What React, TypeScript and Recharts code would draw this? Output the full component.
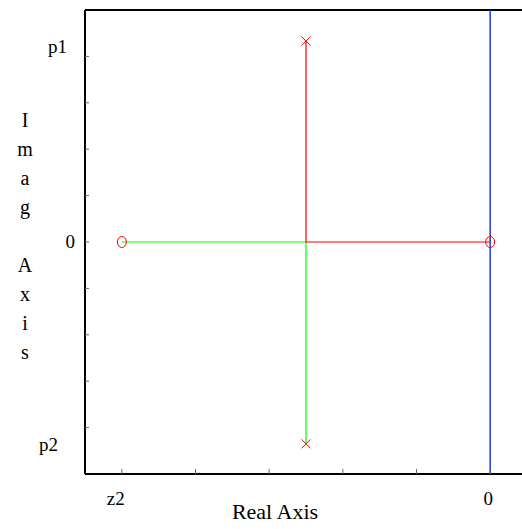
import React from 'react';
import { ComposedChart, Scatter, XAxis, YAxis } from 'recharts';

// ============================================
// Root locus plot (two poles, two zeros)
// ============================================

const realTicks = [-5, -4, -3, -2, -1, 0];
const realTickLabels = ['z2', '', '', '', '', '0'];

const imagTicks = [-4, -3, -2, -1, 0, 1, 2, 3, 4];
const imagLabelValues = [4.2, 0, -4.37];
const imagLabels = ['p1', '0', 'p2'];

const poles = [
  { x: -2.5, y: 4.33 },
  { x: -2.5, y: -4.35 },
];
const zeros = [
  { x: -5, y: 0 },
  { x: 0, y: 0 },
];

// branch from p1 to z1 (origin), branch from p2 to z2
const redBranch = [
  { x: -2.5, y: 4.33 },
  { x: -2.5, y: 0 },
  { x: 0, y: 0 },
];
const greenBranch = [
  { x: -2.5, y: -4.35 },
  { x: -2.5, y: 0 },
  { x: -5, y: 0 },
];
const imagAxisLine = [
  { x: 0, y: 5 },
  { x: 0, y: -5 },
];

const yLabelLetters = ['I', 'm', 'a', 'g', '', 'A', 'x', 'i', 's'];

const FONT = '"Liberation Serif", "Times New Roman", serif';
const TICK_GRAY = '#666';

function BottomTick(props: any) {
  const { x, y, payload, index } = props;
  const label = realTickLabels[realTicks.indexOf(payload.value)] ?? '';
  return (
    <g>
      <line x1={x} y1={y} x2={x} y2={y - 5} stroke={TICK_GRAY} strokeWidth={1} />
      {label && (
        <text x={x - (index === 0 ? 6 : 2)} y={y + 31} textAnchor="middle" fontFamily={FONT} fontSize={19} fill="#000">
          {label}
        </text>
      )}
    </g>
  );
}

function TopTick(props: any) {
  const { x, y } = props;
  return <line x1={x} y1={y} x2={x} y2={y + 5} stroke={TICK_GRAY} strokeWidth={1} />;
}

function LeftTick(props: any) {
  const { x, y, payload } = props;
  const v = payload.value;
  const labelIdx = imagLabelValues.indexOf(v);
  if (labelIdx >= 0) {
    const name = imagLabels[labelIdx];
    const endX = name === 'p1' ? x - 18 : name === 'p2' ? x - 27 : x - 10;
    return (
      <g>
        {v === 0 && <line x1={x} y1={y} x2={x + 4} y2={y} stroke={TICK_GRAY} strokeWidth={1} />}
        <text x={endX} y={y + 6} textAnchor="end" fontFamily={FONT} fontSize={19} fill="#000">
          {name}
        </text>
      </g>
    );
  }
  return <line x1={x} y1={y} x2={x + 4} y2={y} stroke={TICK_GRAY} strokeWidth={1} />;
}

function YAxisTitle() {
  return (
    <g>
      {yLabelLetters.map((ch, i) =>
        ch ? (
          <text key={i} x={25} y={127 + i * 29} textAnchor="middle" fontFamily={FONT} fontSize={20} fill="#000">
            {ch}
          </text>
        ) : null
      )}
    </g>
  );
}

const PoleMarker = (props: any) => {
  const { cx, cy } = props;
  const s = 4.5;
  return (
    <g stroke="#ff0000" strokeWidth={1}>
      <line x1={cx - s} y1={cy - s} x2={cx + s} y2={cy + s} />
      <line x1={cx - s} y1={cy + s} x2={cx + s} y2={cy - s} />
    </g>
  );
};

const ZeroMarker = (props: any) => {
  const { cx, cy } = props;
  return <ellipse cx={cx} cy={cy} rx={4.5} ry={5.5} fill="none" stroke="#ff0000" strokeWidth={1} />;
};

const NoDot = () => <g />;

export default function App() {
  return (
    <div style={{ position: 'absolute', left: 0, top: 0, width: 522, height: 529, overflow: 'hidden', background: '#fff' }}>
      <ComposedChart width={540} height={529} margin={{ top: 9, right: 13, bottom: 54, left: 84 }}>
        <XAxis
          xAxisId="bottom"
          dataKey="x"
          type="number"
          domain={[-5.5, 0.5]}
          ticks={realTicks}
          orientation="bottom"
          height={1}
          tickSize={0}
          tickMargin={0}
          axisLine={{ stroke: '#000', strokeWidth: 2 }}
          tickLine={false}
          tick={<BottomTick />}
          interval={0}
        />
        <XAxis
          xAxisId="top"
          dataKey="x"
          type="number"
          domain={[-5.5, 0.5]}
          ticks={realTicks}
          orientation="top"
          height={1}
          tickSize={0}
          tickMargin={0}
          axisLine={{ stroke: '#000', strokeWidth: 2 }}
          tickLine={false}
          tick={<TopTick />}
          interval={0}
        />
        <YAxis
          yAxisId="left"
          dataKey="y"
          type="number"
          domain={[-5, 5]}
          ticks={[...imagTicks, ...imagLabelValues.filter((v) => v !== 0)]}
          width={1}
          tickSize={0}
          tickMargin={0}
          axisLine={{ stroke: '#000', strokeWidth: 2 }}
          tickLine={false}
          tick={<LeftTick />}
          interval={0}
        />
        <Scatter
          xAxisId="bottom"
          yAxisId="left"
          data={imagAxisLine}
          line={{ stroke: '#1a3ce0', strokeWidth: 1.5 }}
          shape={<NoDot />}
          isAnimationActive={false}
        />
        <Scatter
          xAxisId="bottom"
          yAxisId="left"
          data={greenBranch}
          line={{ stroke: '#00ff00', strokeWidth: 1.2 }}
          shape={<NoDot />}
          isAnimationActive={false}
        />
        <Scatter
          xAxisId="bottom"
          yAxisId="left"
          data={redBranch}
          line={{ stroke: '#ff0000', strokeWidth: 1.2 }}
          shape={<NoDot />}
          isAnimationActive={false}
        />
        <Scatter xAxisId="bottom" yAxisId="left" data={poles} shape={<PoleMarker />} isAnimationActive={false} />
        <Scatter xAxisId="bottom" yAxisId="left" data={zeros} shape={<ZeroMarker />} isAnimationActive={false} />
        <YAxisTitle />
        <text x={275} y={519} textAnchor="middle" fontFamily={FONT} fontSize={22} fill="#000">
          Real Axis
        </text>
      </ComposedChart>
    </div>
  );
}
